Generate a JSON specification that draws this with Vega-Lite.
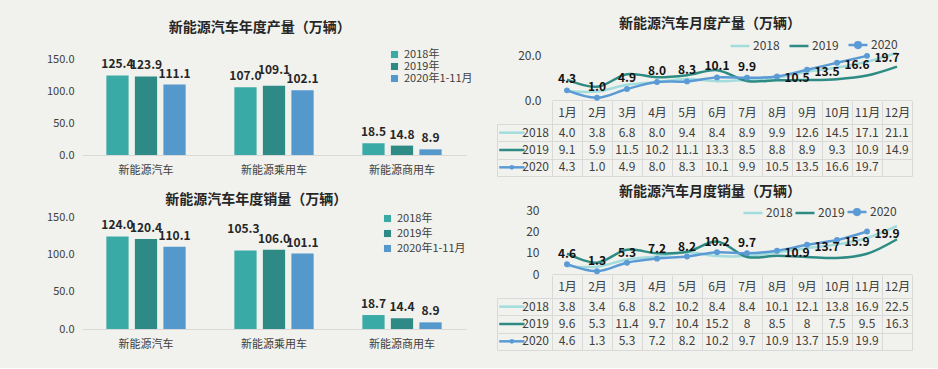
{
  "$schema": "https://vega.github.io/schema/vega-lite/v6.json",
  "background": "#f1f2ee",
  "padding": {"left": 46, "top": 17, "right": 30, "bottom": 18},
  "config": {
    "font": "Noto Sans CJK SC",
    "view": {"stroke": null},
    "axis": {"labelFont": "Noto Sans CJK SC", "labelColor": "#404040", "domain": false, "ticks": false, "grid": false, "title": null},
    "legend": {"labelFont": "Noto Sans CJK SC", "labelColor": "#404040", "title": null},
    "title": {"font": "Noto Sans CJK SC", "fontSize": 14, "fontWeight": "bold", "color": "#262626", "frame": "bounds", "anchor": "middle"}
  },
  "resolve": {"scale": {"color": "independent"}, "legend": {"color": "independent"}},
  "datasets": {
    "bars_prod": [
      {"cat": "新能源汽车", "year": "2018年", "value": 125.4},
      {"cat": "新能源汽车", "year": "2019年", "value": 123.9},
      {"cat": "新能源汽车", "year": "2020年1-11月", "value": 111.1},
      {"cat": "新能源乘用车", "year": "2018年", "value": 107.0},
      {"cat": "新能源乘用车", "year": "2019年", "value": 109.1},
      {"cat": "新能源乘用车", "year": "2020年1-11月", "value": 102.1},
      {"cat": "新能源商用车", "year": "2018年", "value": 18.5},
      {"cat": "新能源商用车", "year": "2019年", "value": 14.8},
      {"cat": "新能源商用车", "year": "2020年1-11月", "value": 8.9}
    ],
    "bars_sales": [
      {"cat": "新能源汽车", "year": "2018年", "value": 124.0},
      {"cat": "新能源汽车", "year": "2019年", "value": 120.4},
      {"cat": "新能源汽车", "year": "2020年1-11月", "value": 110.1},
      {"cat": "新能源乘用车", "year": "2018年", "value": 105.3},
      {"cat": "新能源乘用车", "year": "2019年", "value": 106.0},
      {"cat": "新能源乘用车", "year": "2020年1-11月", "value": 101.1},
      {"cat": "新能源商用车", "year": "2018年", "value": 18.7},
      {"cat": "新能源商用车", "year": "2019年", "value": 14.4},
      {"cat": "新能源商用车", "year": "2020年1-11月", "value": 8.9}
    ],
    "prod": [
      {"month": "1月", "series": "2018", "value": 4.0},
      {"month": "2月", "series": "2018", "value": 3.8},
      {"month": "3月", "series": "2018", "value": 6.8},
      {"month": "4月", "series": "2018", "value": 8.0},
      {"month": "5月", "series": "2018", "value": 9.4},
      {"month": "6月", "series": "2018", "value": 8.4},
      {"month": "7月", "series": "2018", "value": 8.9},
      {"month": "8月", "series": "2018", "value": 9.9},
      {"month": "9月", "series": "2018", "value": 12.6},
      {"month": "10月", "series": "2018", "value": 14.5},
      {"month": "11月", "series": "2018", "value": 17.1},
      {"month": "12月", "series": "2018", "value": 21.1},
      {"month": "1月", "series": "2019", "value": 9.1},
      {"month": "2月", "series": "2019", "value": 5.9},
      {"month": "3月", "series": "2019", "value": 11.5},
      {"month": "4月", "series": "2019", "value": 10.2},
      {"month": "5月", "series": "2019", "value": 11.1},
      {"month": "6月", "series": "2019", "value": 13.3},
      {"month": "7月", "series": "2019", "value": 8.5},
      {"month": "8月", "series": "2019", "value": 8.8},
      {"month": "9月", "series": "2019", "value": 8.9},
      {"month": "10月", "series": "2019", "value": 9.3},
      {"month": "11月", "series": "2019", "value": 10.9},
      {"month": "12月", "series": "2019", "value": 14.9},
      {"month": "1月", "series": "2020", "value": 4.3},
      {"month": "2月", "series": "2020", "value": 1.0},
      {"month": "3月", "series": "2020", "value": 4.9},
      {"month": "4月", "series": "2020", "value": 8.0},
      {"month": "5月", "series": "2020", "value": 8.3},
      {"month": "6月", "series": "2020", "value": 10.1},
      {"month": "7月", "series": "2020", "value": 9.9},
      {"month": "8月", "series": "2020", "value": 10.5},
      {"month": "9月", "series": "2020", "value": 13.5},
      {"month": "10月", "series": "2020", "value": 16.6},
      {"month": "11月", "series": "2020", "value": 19.7}
    ],
    "sales": [
      {"month": "1月", "series": "2018", "value": 3.8},
      {"month": "2月", "series": "2018", "value": 3.4},
      {"month": "3月", "series": "2018", "value": 6.8},
      {"month": "4月", "series": "2018", "value": 8.2},
      {"month": "5月", "series": "2018", "value": 10.2},
      {"month": "6月", "series": "2018", "value": 8.4},
      {"month": "7月", "series": "2018", "value": 8.4},
      {"month": "8月", "series": "2018", "value": 10.1},
      {"month": "9月", "series": "2018", "value": 12.1},
      {"month": "10月", "series": "2018", "value": 13.8},
      {"month": "11月", "series": "2018", "value": 16.9},
      {"month": "12月", "series": "2018", "value": 22.5},
      {"month": "1月", "series": "2019", "value": 9.6},
      {"month": "2月", "series": "2019", "value": 5.3},
      {"month": "3月", "series": "2019", "value": 11.4},
      {"month": "4月", "series": "2019", "value": 9.7},
      {"month": "5月", "series": "2019", "value": 10.4},
      {"month": "6月", "series": "2019", "value": 15.2},
      {"month": "7月", "series": "2019", "value": 8},
      {"month": "8月", "series": "2019", "value": 8.5},
      {"month": "9月", "series": "2019", "value": 8},
      {"month": "10月", "series": "2019", "value": 7.5},
      {"month": "11月", "series": "2019", "value": 9.5},
      {"month": "12月", "series": "2019", "value": 16.3},
      {"month": "1月", "series": "2020", "value": 4.6},
      {"month": "2月", "series": "2020", "value": 1.3},
      {"month": "3月", "series": "2020", "value": 5.3},
      {"month": "4月", "series": "2020", "value": 7.2},
      {"month": "5月", "series": "2020", "value": 8.2},
      {"month": "6月", "series": "2020", "value": 10.2},
      {"month": "7月", "series": "2020", "value": 9.7},
      {"month": "8月", "series": "2020", "value": 10.9},
      {"month": "9月", "series": "2020", "value": 13.7},
      {"month": "10月", "series": "2020", "value": 15.9},
      {"month": "11月", "series": "2020", "value": 19.9}
    ]
  },
  "spacing": 24,
  "align": "none",
  "hconcat": [
    {
      "spacing": 18,
      "resolve": {"scale": {"color": "independent"}, "legend": {"color": "independent"}},
      "vconcat": [
        {
          "data": {"name": "bars_prod"},
          "title": {"text": "新能源汽车年度产量（万辆）", "offset": 9},
          "width": 384,
          "height": 111,
          "encoding": {
            "x": {"field": "cat", "type": "nominal", "sort": ["新能源汽车", "新能源乘用车", "新能源商用车"], "scale": {"paddingInner": 0.345, "paddingOuter": 0.1725}, "axis": {"domain": true, "domainColor": "#d9d9d9", "labelAngle": 0, "labelFontSize": 11, "labelPadding": 9}},
            "xOffset": {"field": "year", "type": "nominal", "sort": ["2018年", "2019年", "2020年1-11月"], "scale": {"paddingInner": 0.22, "paddingOuter": 0.08}},
            "y": {"field": "value", "type": "quantitative", "scale": {"domain": [0, 175]}, "axis": {"values": [0, 50, 100, 150], "format": ".1f", "labelFontSize": 11, "labelPadding": 8}}
          },
          "layer": [
            {
              "mark": {"type": "bar"},
              "encoding": {
                "color": {"field": "year", "type": "nominal", "sort": ["2018年", "2019年", "2020年1-11月"], "scale": {"domain": ["2018年", "2019年", "2020年1-11月"], "range": ["#3aaaa6", "#2e8a85", "#5598cc"]},
                  "legend": {"orient": "none", "legendX": 307, "legendY": 5, "symbolType": "square", "symbolSize": 50, "labelFontSize": 11, "rowPadding": 0}}
              }
            },
            {
              "transform": [{"filter": {"not": {"and": [{"field": "cat", "equal": "新能源乘用车"}, {"field": "year", "equal": "2019年"}]}}}],
              "mark": {"type": "text", "dy": -11, "fontSize": 12, "fontWeight": "bold", "color": "#262626"},
              "encoding": {"text": {"field": "value", "type": "quantitative", "format": ".1f"}}
            },
            {
              "transform": [{"filter": {"and": [{"field": "cat", "equal": "新能源乘用车"}, {"field": "year", "equal": "2019年"}]}}],
              "mark": {"type": "text", "dy": -16, "fontSize": 12, "fontWeight": "bold", "color": "#262626"},
              "encoding": {"text": {"field": "value", "type": "quantitative", "format": ".1f"}}
            }
          ]
        },
        {
          "data": {"name": "bars_sales"},
          "title": {"text": "新能源汽车年度销量（万辆）", "offset": 4},
          "width": 384,
          "height": 112,
          "encoding": {
            "x": {"field": "cat", "type": "nominal", "sort": ["新能源汽车", "新能源乘用车", "新能源商用车"], "scale": {"paddingInner": 0.345, "paddingOuter": 0.1725}, "axis": {"domain": true, "domainColor": "#d9d9d9", "labelAngle": 0, "labelFontSize": 11, "labelPadding": 9}},
            "xOffset": {"field": "year", "type": "nominal", "sort": ["2018年", "2019年", "2020年1-11月"], "scale": {"paddingInner": 0.22, "paddingOuter": 0.08}},
            "y": {"field": "value", "type": "quantitative", "scale": {"domain": [0, 150]}, "axis": {"values": [0, 50, 100, 150], "format": ".1f", "labelFontSize": 11, "labelPadding": 8}}
          },
          "layer": [
            {
              "mark": {"type": "bar"},
              "encoding": {
                "color": {"field": "year", "type": "nominal", "sort": ["2018年", "2019年", "2020年1-11月"], "scale": {"domain": ["2018年", "2019年", "2020年1-11月"], "range": ["#3aaaa6", "#2e8a85", "#5598cc"]},
                  "legend": {"orient": "none", "legendX": 300, "legendY": -4, "symbolType": "square", "symbolSize": 50, "labelFontSize": 11, "rowPadding": 3}}
              }
            },
            {
              "transform": [{"filter": {"not": {"and": [{"field": "cat", "equal": "新能源乘用车"}, {"field": "year", "equal": "2018年"}]}}}],
              "mark": {"type": "text", "dy": -11, "fontSize": 12, "fontWeight": "bold", "color": "#262626"},
              "encoding": {"text": {"field": "value", "type": "quantitative", "format": ".1f"}}
            },
            {
              "transform": [{"filter": {"and": [{"field": "cat", "equal": "新能源乘用车"}, {"field": "year", "equal": "2018年"}]}}],
              "mark": {"type": "text", "dy": -21, "dx": -2, "fontSize": 12, "fontWeight": "bold", "color": "#262626"},
              "encoding": {"text": {"field": "value", "type": "quantitative", "format": ".1f"}}
            }
          ]
        }
      ]
    },
    {
      "spacing": 9,
      "resolve": {"scale": {"color": "independent"}, "legend": {"color": "independent"}},
      "vconcat": [
        {
          "spacing": -6,
          "resolve": {"scale": {"color": "independent"}, "legend": {"color": "independent"}},
          "vconcat": [
            {
              "bounds": "flush",
              "spacing": 0,
              "resolve": {"scale": {"color": "independent"}, "legend": {"color": "independent"}},
              "hconcat": [
                {"width": 55, "height": 56, "data": {"values": [{}]}, "mark": {"type": "point", "opacity": 0}, "encoding": {}},
                {
                  "data": {"name": "prod"},
                  "title": {"text": "新能源汽车月度产量（万辆）", "frame": "group", "offset": 3, "dx": -22},
                  "width": 360,
                  "height": 56,
                  "encoding": {
                    "x": {"field": "month", "type": "ordinal", "sort": ["1月", "2月", "3月", "4月", "5月", "6月", "7月", "8月", "9月", "10月", "11月", "12月"], "scale": {"type": "point", "padding": 0.5}, "axis": {"labels": false, "domain": true, "domainColor": "#d9d9d9"}},
                    "y": {"field": "value", "type": "quantitative", "scale": {"domain": [0, 25]}, "axis": {"values": [0, 20], "format": ".1f", "labelFontSize": 12, "labelPadding": 11}},
                    "color": {"field": "series", "type": "nominal", "scale": {"domain": ["2018", "2019", "2020"], "range": ["#a3dcdc", "#2e8b84", "#5b9bd5"]},
                      "legend": {"orient": "none", "legendX": 177, "legendY": -10, "direction": "horizontal", "symbolType": "stroke", "symbolStrokeWidth": 2.5, "symbolSize": 360, "labelFontSize": 12, "columnPadding": 4, "labelOffset": 2,
                        "encode": {"symbols": {"update": {"shape": {"signal": "datum.value === '2020' ? 'M-1,0L1,0M0.3,0A0.3,0.3,0,1,1,-0.3,0A0.3,0.3,0,1,1,0.3,0' : 'stroke'"}, "fill": {"signal": "datum.value === '2020' ? '#5b9bd5' : 'transparent'"}}}}}}
                  },
                  "layer": [
                    {"mark": {"type": "line", "interpolate": "catmull-rom", "strokeWidth": 2.5}},
                    {"transform": [{"filter": {"field": "series", "equal": "2020"}}], "mark": {"type": "point", "filled": true, "size": 35, "opacity": 1}},
                    {
                      "transform": [{"filter": {"field": "series", "equal": "2020"}}, {"filter": {"field": "month", "oneOf": ["1月", "2月", "3月", "4月", "5月", "6月", "7月"]}}],
                      "mark": {"type": "text", "dy": -11, "fontSize": 12, "fontWeight": "bold"},
                      "encoding": {"text": {"field": "value", "type": "quantitative", "format": ".1f"}, "color": {"value": "#111111"}}
                    },
                    {
                      "transform": [{"filter": {"field": "series", "equal": "2020"}}, {"filter": {"field": "month", "oneOf": ["8月", "9月", "10月", "11月"]}}],
                      "mark": {"type": "text", "dx": 20, "dy": 2, "fontSize": 12, "fontWeight": "bold"},
                      "encoding": {"text": {"field": "value", "type": "quantitative", "format": ".1f"}, "color": {"value": "#111111"}}
                    }
                  ]
                }
              ]
            },
            {
              "bounds": "flush",
              "spacing": 0,
              "resolve": {"scale": {"color": "independent"}, "legend": {"color": "independent"}},
              "hconcat": [
                {
                  "data": {"name": "prod"},
                  "transform": [{"filter": {"field": "month", "equal": "1月"}}],
                  "width": 55,
                  "height": 52,
                  "encoding": {
                    "y": {"field": "series", "type": "nominal", "scale": {"domain": ["2018", "2019", "2020"], "paddingInner": 0, "paddingOuter": 0}, "axis": {"labels": false, "grid": true, "gridColor": "#d9d9d9", "tickBand": "extent"}}
                  },
                  "layer": [
                    {"mark": {"type": "rule", "strokeWidth": 2.5},
                     "encoding": {"x": {"datum": 0.04, "type": "quantitative", "scale": {"domain": [0, 1]}, "axis": {"values": [0], "labels": false, "grid": true, "gridColor": "#d9d9d9"}}, "x2": {"datum": 0.5},
                       "color": {"field": "series", "type": "nominal", "scale": {"domain": ["2018", "2019", "2020"], "range": ["#a3dcdc", "#2e8b84", "#5b9bd5"]}, "legend": null}}},
                    {"transform": [{"filter": {"field": "series", "equal": "2020"}}], "mark": {"type": "point", "filled": true, "size": 22, "opacity": 1, "color": "#5b9bd5"},
                     "encoding": {"x": {"datum": 0.27, "type": "quantitative"}}},
                    {"mark": {"type": "text", "align": "right", "dx": -3, "fontSize": 12, "color": "#404040"},
                     "encoding": {"x": {"datum": 1, "type": "quantitative"}, "text": {"field": "series", "type": "nominal"}}}
                  ]
                },
                {
                  "data": {"name": "prod"},
                  "width": 360,
                  "height": 52,
                  "encoding": {
                    "x": {"field": "month", "type": "ordinal", "sort": ["1月", "2月", "3月", "4月", "5月", "6月", "7月", "8月", "9月", "10月", "11月", "12月"], "scale": {"type": "band", "paddingInner": 0, "paddingOuter": 0},
                      "axis": {"orient": "top", "labels": true, "labelAngle": 0, "labelFontSize": 12, "labelColor": "#404040", "labelBaseline": "middle", "labelPadding": -11.5, "ticks": true, "tickSize": 23, "tickColor": "#d9d9d9", "tickBand": "extent", "grid": true, "gridColor": "#d9d9d9", "domain": true, "domainColor": "#d9d9d9"}},
                    "y": {"field": "series", "type": "nominal", "scale": {"domain": ["2018", "2019", "2020"], "paddingInner": 0, "paddingOuter": 0}, "axis": {"labels": false, "grid": true, "gridColor": "#d9d9d9", "tickBand": "extent"}}
                  },
                  "layer": [
                    {"mark": {"type": "text", "fontSize": 12, "color": "#404040"}, "encoding": {"text": {"field": "value", "type": "quantitative", "format": ".1f"}}}
                  ]
                }
              ]
            }
          ]
        },
        {
          "spacing": -6,
          "resolve": {"scale": {"color": "independent"}, "legend": {"color": "independent"}},
          "vconcat": [
            {
              "bounds": "flush",
              "spacing": 0,
              "resolve": {"scale": {"color": "independent"}, "legend": {"color": "independent"}},
              "hconcat": [
                {"width": 55, "height": 64, "data": {"values": [{}]}, "mark": {"type": "point", "opacity": 0}, "encoding": {}},
                {
                  "data": {"name": "sales"},
                  "title": {"text": "新能源汽车月度销量（万辆）", "frame": "group", "offset": 2, "dx": -22},
                  "width": 360,
                  "height": 64,
                  "encoding": {
                    "x": {"field": "month", "type": "ordinal", "sort": ["1月", "2月", "3月", "4月", "5月", "6月", "7月", "8月", "9月", "10月", "11月", "12月"], "scale": {"type": "point", "padding": 0.5}, "axis": {"labels": false, "domain": true, "domainColor": "#d9d9d9"}},
                    "y": {"field": "value", "type": "quantitative", "scale": {"domain": [0, 30]}, "axis": {"values": [0, 10, 20, 30], "format": "d", "labelFontSize": 12, "labelPadding": 13}},
                    "color": {"field": "series", "type": "nominal", "scale": {"domain": ["2018", "2019", "2020"], "range": ["#a3dcdc", "#2e8b84", "#5b9bd5"]},
                      "legend": {"orient": "none", "legendX": 190, "legendY": -9, "direction": "horizontal", "symbolType": "stroke", "symbolStrokeWidth": 2.5, "symbolSize": 360, "labelFontSize": 12, "columnPadding": -3, "labelOffset": 2,
                        "encode": {"symbols": {"update": {"shape": {"signal": "datum.value === '2020' ? 'M-1,0L1,0M0.3,0A0.3,0.3,0,1,1,-0.3,0A0.3,0.3,0,1,1,0.3,0' : 'stroke'"}, "fill": {"signal": "datum.value === '2020' ? '#5b9bd5' : 'transparent'"}}}}}}
                  },
                  "layer": [
                    {"mark": {"type": "line", "interpolate": "catmull-rom", "strokeWidth": 2.5}},
                    {"transform": [{"filter": {"field": "series", "equal": "2020"}}], "mark": {"type": "point", "filled": true, "size": 35, "opacity": 1}},
                    {
                      "transform": [{"filter": {"field": "series", "equal": "2020"}}, {"filter": {"field": "month", "oneOf": ["1月", "2月", "3月", "4月", "5月", "6月", "7月"]}}],
                      "mark": {"type": "text", "dy": -10, "fontSize": 12, "fontWeight": "bold"},
                      "encoding": {"text": {"field": "value", "type": "quantitative", "format": ".1f"}, "color": {"value": "#111111"}}
                    },
                    {
                      "transform": [{"filter": {"field": "series", "equal": "2020"}}, {"filter": {"field": "month", "oneOf": ["8月", "9月", "10月", "11月"]}}],
                      "mark": {"type": "text", "dx": 20, "dy": 2, "fontSize": 12, "fontWeight": "bold"},
                      "encoding": {"text": {"field": "value", "type": "quantitative", "format": ".1f"}, "color": {"value": "#111111"}}
                    }
                  ]
                }
              ]
            },
            {
              "bounds": "flush",
              "spacing": 0,
              "resolve": {"scale": {"color": "independent"}, "legend": {"color": "independent"}},
              "hconcat": [
                {
                  "data": {"name": "sales"},
                  "transform": [{"filter": {"field": "month", "equal": "1月"}}],
                  "width": 55,
                  "height": 52,
                  "encoding": {
                    "y": {"field": "series", "type": "nominal", "scale": {"domain": ["2018", "2019", "2020"], "paddingInner": 0, "paddingOuter": 0}, "axis": {"labels": false, "grid": true, "gridColor": "#d9d9d9", "tickBand": "extent"}}
                  },
                  "layer": [
                    {"mark": {"type": "rule", "strokeWidth": 2.5},
                     "encoding": {"x": {"datum": 0.04, "type": "quantitative", "scale": {"domain": [0, 1]}, "axis": {"values": [0], "labels": false, "grid": true, "gridColor": "#d9d9d9"}}, "x2": {"datum": 0.5},
                       "color": {"field": "series", "type": "nominal", "scale": {"domain": ["2018", "2019", "2020"], "range": ["#a3dcdc", "#2e8b84", "#5b9bd5"]}, "legend": null}}},
                    {"transform": [{"filter": {"field": "series", "equal": "2020"}}], "mark": {"type": "point", "filled": true, "size": 22, "opacity": 1, "color": "#5b9bd5"},
                     "encoding": {"x": {"datum": 0.27, "type": "quantitative"}}},
                    {"mark": {"type": "text", "align": "right", "dx": -3, "fontSize": 12, "color": "#404040"},
                     "encoding": {"x": {"datum": 1, "type": "quantitative"}, "text": {"field": "series", "type": "nominal"}}}
                  ]
                },
                {
                  "data": {"name": "sales"},
                  "width": 360,
                  "height": 52,
                  "encoding": {
                    "x": {"field": "month", "type": "ordinal", "sort": ["1月", "2月", "3月", "4月", "5月", "6月", "7月", "8月", "9月", "10月", "11月", "12月"], "scale": {"type": "band", "paddingInner": 0, "paddingOuter": 0},
                      "axis": {"orient": "top", "labels": true, "labelAngle": 0, "labelFontSize": 12, "labelColor": "#404040", "labelBaseline": "middle", "labelPadding": -11.5, "ticks": true, "tickSize": 23, "tickColor": "#d9d9d9", "tickBand": "extent", "grid": true, "gridColor": "#d9d9d9", "domain": true, "domainColor": "#d9d9d9"}},
                    "y": {"field": "series", "type": "nominal", "scale": {"domain": ["2018", "2019", "2020"], "paddingInner": 0, "paddingOuter": 0}, "axis": {"labels": false, "grid": true, "gridColor": "#d9d9d9", "tickBand": "extent"}}
                  },
                  "layer": [
                    {"mark": {"type": "text", "fontSize": 12, "color": "#404040"}, "encoding": {"text": {"field": "value", "type": "nominal"}}}
                  ]
                }
              ]
            }
          ]
        }
      ]
    }
  ]
}
